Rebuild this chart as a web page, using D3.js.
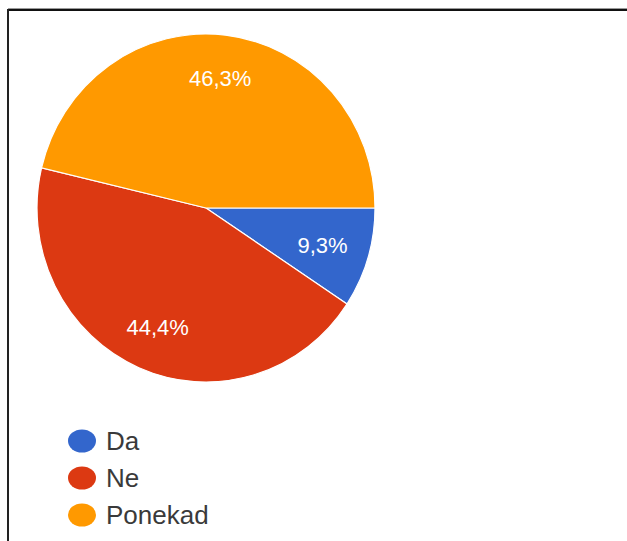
<!DOCTYPE html>
<html>
<head>
<meta charset="utf-8">
<script src="https://cdn.jsdelivr.net/npm/d3@7"></script>
<style>
  html, body { margin: 0; padding: 0; background: #fff; }
  svg { display: block; }
</style>
</head>
<body>
<svg id="chart" width="627" height="541"></svg>
<script>
// Survey answers and their shares (percent)
const categories = ["Da", "Ne", "Ponekad"];
const shares = [9.3, 44.4, 46.3];
const labels = ["9,3%", "44,4%", "46,3%"];
const colors = ["#3366cc", "#dc3912", "#ff9900"];

const svg = d3.select("#chart");
const font = "Arial, 'Liberation Sans', sans-serif";

// Frame: top and left rules
svg.append("rect").attr("x", 8).attr("y", 8).attr("width", 619).attr("height", 1).attr("fill", "#9a9a9a");
svg.append("rect").attr("x", 8).attr("y", 9).attr("width", 619).attr("height", 2).attr("fill", "#111");
svg.append("rect").attr("x", 7).attr("y", 9).attr("width", 2).attr("height", 532).attr("fill", "#222");

// Pie geometry
const cx = 206, cy = 208, rx = 169, ry = 174;
const sy = ry / rx;

const pie = d3.pie().sort(null).value(d => d.value)
  .startAngle(Math.PI / 2).endAngle(Math.PI / 2 + 2 * Math.PI);
const data = categories.map((c, i) => ({ name: c, value: shares[i], label: labels[i], color: colors[i] }));
const arcs = pie(data);

const arc = d3.arc().innerRadius(0).outerRadius(rx);
const labelArc = d3.arc().innerRadius(rx * 0.75).outerRadius(rx * 0.75);

const g = svg.append("g").attr("transform", `translate(${cx},${cy}) scale(1,${sy})`);
g.selectAll("path.slice")
  .data(arcs)
  .join("path")
  .attr("class", "slice")
  .attr("d", arc)
  .attr("fill", d => d.data.color)
  .attr("stroke", "#fff")
  .attr("stroke-width", 1.2)
  .attr("vector-effect", "non-scaling-stroke");

// Percentage labels inside slices
svg.append("g").selectAll("text")
  .data(arcs)
  .join("text")
  .attr("x", d => cx + labelArc.centroid(d)[0] * 0.96)
  .attr("y", d => cy + labelArc.centroid(d)[1] * sy)
  .attr("text-anchor", "middle")
  .attr("dominant-baseline", "central")
  .attr("font-family", font)
  .attr("font-size", 22)
  .attr("fill", "#fff")
  .text(d => d.data.label);

// Legend
const legendY = d3.scalePoint().domain(categories).range([441, 515]);
const legend = svg.append("g");
const items = legend.selectAll("g")
  .data(data)
  .join("g")
  .attr("transform", d => `translate(0,${legendY(d.name)})`);
items.append("ellipse")
  .attr("cx", 82).attr("cy", 0).attr("rx", 14).attr("ry", 11.5)
  .attr("fill", d => d.color);
items.append("text")
  .attr("x", 106).attr("y", 0)
  .attr("dominant-baseline", "central")
  .attr("font-family", font)
  .attr("font-size", 26)
  .attr("fill", "#3a3a3a")
  .text(d => d.name);
</script>
</body>
</html>
